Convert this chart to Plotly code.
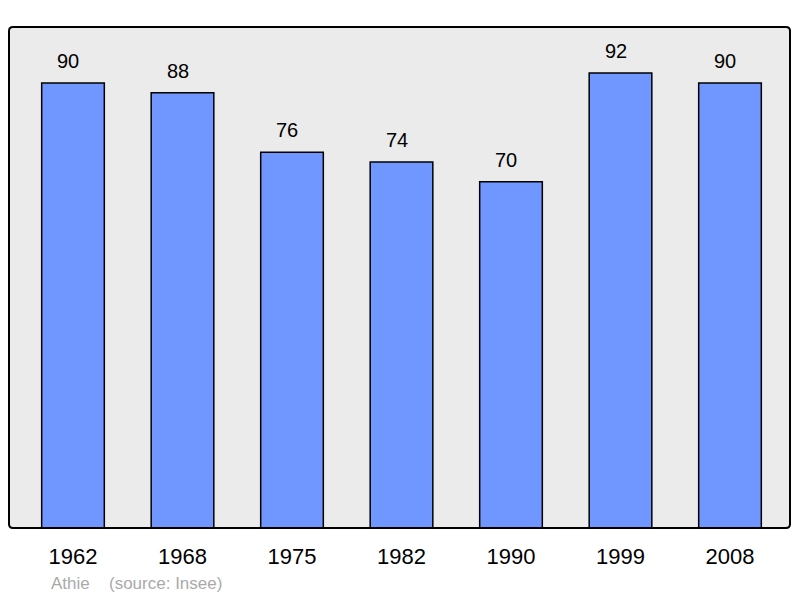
import plotly.graph_objects as go

years = ["1962", "1968", "1975", "1982", "1990", "1999", "2008"]
population = [90, 88, 76, 74, 70, 92, 90]
place = "Athie"
source = "(source: Insee)"

# page body has an 8px margin; work in figure coordinates (page - 8)
OFF = 8
W, H = 800 - OFF, 598 - OFF
L, R, T, B = 9 - OFF, 790 - OFF, 27 - OFF, 528 - OFF
pw, ph = R - L, B - T

unit = 109.5
x0 = -(73 - 9) / unit
x1 = 6 + (790 - 730) / unit

fig = go.Figure()
fig.add_trace(go.Bar(
    x=list(range(len(years))), y=population,
    width=0.572,
    marker=dict(color="#7096FF", line=dict(color="#000000", width=1.5)),
    hoverinfo="skip",
))

for i, v in enumerate(population):
    fig.add_annotation(x=i, y=v, text=str(v), showarrow=False, yshift=22, xshift=-5,
                       yanchor="middle", xanchor="center",
                       font=dict(family="Liberation Sans, Arial", size=20, color="#000000"))

# rounded frame
rx, ry = 4 / pw, 4 / ph
path = (f"M {rx},0 L {1-rx},0 Q 1,0 1,{ry} L 1,{1-ry} Q 1,1 {1-rx},1 "
        f"L {rx},1 Q 0,1 0,{1-ry} L 0,{ry} Q 0,0 {rx},0 Z")
fig.add_shape(type="path", xref="paper", yref="paper", path=path,
              line=dict(color="#000000", width=2), layer="above")

fig.add_annotation(xref="paper", yref="paper", x=(49 - 9) / pw, y=-(583 - 528) / ph,
                   text=place, showarrow=False, xanchor="left", yanchor="middle",
                   font=dict(family="Liberation Sans, Arial", size=17, color="#AAAAAA"))
fig.add_annotation(xref="paper", yref="paper", x=(107 - 9) / pw, y=-(583 - 528) / ph,
                   text=source, showarrow=False, xanchor="left", yanchor="middle",
                   font=dict(family="Liberation Sans, Arial", size=17, color="#AAAAAA"))

fig.update_layout(
    width=W, height=H,
    margin=dict(l=L, r=W - R, t=T, b=H - B, pad=0),
    paper_bgcolor="#FFFFFF", plot_bgcolor="#EBEBEB",
    showlegend=False,
    xaxis=dict(range=[x0, x1], tickmode="array", tickvals=list(range(len(years))),
               ticktext=years, showgrid=False, zeroline=False, showline=False,
               ticks="outside", ticklen=9, tickcolor="rgba(0,0,0,0)",
               tickfont=dict(family="Liberation Sans, Arial", size=22, color="#000000"),
               fixedrange=True),
    yaxis=dict(range=[0, 101.3], showgrid=False, zeroline=False, showline=False,
               showticklabels=False, ticks="", fixedrange=True),
)

fig.write_html("out.html")
